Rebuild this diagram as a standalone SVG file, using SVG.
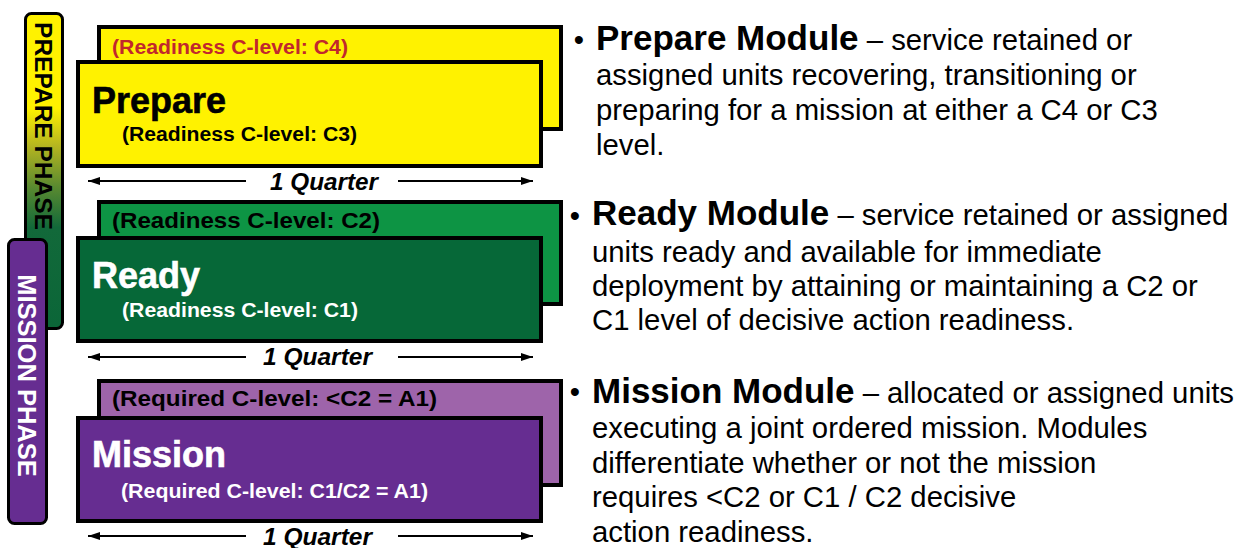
<svg xmlns="http://www.w3.org/2000/svg" width="1249" height="548" viewBox="0 0 1249 548">
<style>
  .box { stroke: #000; stroke-width: 4; }
  .phase { stroke: #000; stroke-width: 3; }
  .b { font-family: "Liberation Sans", Arial, sans-serif; font-weight: bold; }
  .r { font-family: "Liberation Sans", Arial, sans-serif; }
  .title { font-size: 36px; }
  .lvl { font-size: 19.5px; }
  .lvlL { font-size: 22px; }
  .q { font-size: 23px; font-style: italic; }
  .desc { font-size: 29.3px; fill: #000; }
  .head { font-size: 35px; font-weight: bold; }
  .dim { stroke: #000; stroke-width: 2; fill: none; }
</style>
<defs>
  <linearGradient id="prepGrad" x1="0" y1="0" x2="0" y2="1">
    <stop offset="0" stop-color="#fff200"/>
    <stop offset="0.3" stop-color="#fff200"/>
    <stop offset="0.42" stop-color="#b5b520"/>
    <stop offset="0.55" stop-color="#5a8a30"/>
    <stop offset="0.68" stop-color="#12693a"/>
    <stop offset="1" stop-color="#0b6638"/>
  </linearGradient>
  <marker id="ah" viewBox="0 0 12 8" refX="12" refY="4" markerWidth="12" markerHeight="8" markerUnits="userSpaceOnUse" orient="auto-start-reverse">
    <path d="M0,0 L12,4 L0,8 z" fill="#000"/>
  </marker>
</defs>
<rect width="1249" height="548" fill="#fff"/>

<g id="prepare-phase">
  <rect class="phase" x="25.5" y="13.5" width="37" height="315" rx="6" fill="url(#prepGrad)"/>
  <text class="b" font-size="24.5" fill="#000" text-anchor="middle" transform="translate(35,126) rotate(90)">PREPARE PHASE</text>
</g>
<g id="mission-phase">
  <rect class="phase" x="8.5" y="239.5" width="38" height="284" rx="6" fill="#662d91"/>
  <text class="b" font-size="25.5" fill="#fff" text-anchor="middle" transform="translate(18,375.5) rotate(90)">MISSION PHASE</text>
</g>

<g id="prepare-c4">
  <rect class="box" x="99" y="27" width="462" height="102" fill="#fff200"/>
  <text class="b lvl" x="112" y="54" fill="#c1272d" textLength="236" lengthAdjust="spacingAndGlyphs">(Readiness C-level: C4)</text>
</g>
<g id="prepare">
  <rect class="box" x="78" y="62" width="463" height="104" fill="#fff200"/>
  <text class="b title" x="92" y="113" fill="#000" stroke="#000" stroke-width="0.6">Prepare</text>
  <text class="b lvl" x="122" y="141" fill="#000" textLength="235" lengthAdjust="spacingAndGlyphs">(Readiness C-level: C3)</text>
</g>

<g id="ready-c2">
  <rect class="box" x="99" y="202" width="462" height="102" fill="#0d9444"/>
  <text class="b lvlL" x="112" y="228" fill="#000" textLength="268" lengthAdjust="spacingAndGlyphs">(Readiness C-level: C2)</text>
</g>
<g id="ready">
  <rect class="box" x="78" y="238" width="463" height="103" fill="#066838"/>
  <text class="b title" x="92" y="288" fill="#fff" stroke="#fff" stroke-width="0.6">Ready</text>
  <text class="b lvl" x="122" y="316.5" fill="#fff" textLength="236" lengthAdjust="spacingAndGlyphs">(Readiness C-level: C1)</text>
</g>

<g id="mission-c2">
  <rect class="box" x="99" y="381" width="462" height="104" fill="#9e64aa"/>
  <text class="b lvlL" x="112" y="406" fill="#000" textLength="325" lengthAdjust="spacingAndGlyphs">(Required C-level: &lt;C2 = A1)</text>
</g>
<g id="mission">
  <rect class="box" x="78" y="418" width="463" height="103" fill="#662d91"/>
  <text class="b title" x="92" y="466.5" fill="#fff" stroke="#fff" stroke-width="0.6">Mission</text>
  <text class="b lvl" x="121" y="498" fill="#fff" textLength="307" lengthAdjust="spacingAndGlyphs">(Required C-level: C1/C2 = A1)</text>
</g>

<g id="connectors">
  <line class="dim" x1="246" y1="181" x2="88" y2="181" marker-end="url(#ah)"/>
  <line class="dim" x1="398" y1="181" x2="533" y2="181" marker-end="url(#ah)"/>
  <line class="dim" x1="246" y1="357" x2="88" y2="357" marker-end="url(#ah)"/>
  <line class="dim" x1="398" y1="357" x2="533" y2="357" marker-end="url(#ah)"/>
  <line class="dim" x1="246" y1="536" x2="88" y2="536" marker-end="url(#ah)"/>
  <line class="dim" x1="398" y1="536" x2="533" y2="536" marker-end="url(#ah)"/>
</g>
<g id="quarter-labels">
  <text class="b q" x="270" y="190" fill="#000" textLength="108" lengthAdjust="spacingAndGlyphs">1 Quarter</text>
  <text class="b q" x="263" y="365" fill="#000" textLength="109" lengthAdjust="spacingAndGlyphs">1 Quarter</text>
  <text class="b q" x="263" y="545" fill="#000" textLength="109" lengthAdjust="spacingAndGlyphs">1 Quarter</text>
</g>

<g id="prepare-description">
  <text class="r desc" x="579" y="50" text-anchor="middle">•</text>
  <text class="r desc" x="596" y="50"><tspan class="head">Prepare Module</tspan> – service retained or</text>
  <text class="r desc" x="596" y="85">assigned units recovering, transitioning or</text>
  <text class="r desc" x="596" y="120">preparing for a mission at either a C4 or C3</text>
  <text class="r desc" x="596" y="155">level.</text>
</g>
<g id="ready-description">
  <text class="r desc" x="575" y="226" text-anchor="middle">•</text>
  <text class="r desc" x="592" y="225"><tspan class="head">Ready Module</tspan> – service retained or assigned</text>
  <text class="r desc" x="592" y="262">units ready and available for immediate</text>
  <text class="r desc" x="592" y="296">deployment by attaining or maintaining a C2 or</text>
  <text class="r desc" x="592" y="330">C1 level of decisive action readiness.</text>
</g>
<g id="mission-description">
  <text class="r desc" x="575" y="402" text-anchor="middle">•</text>
  <text class="r desc" x="592" y="403"><tspan class="head">Mission Module</tspan> – allocated or assigned units</text>
  <text class="r desc" x="592" y="438">executing a joint ordered mission. Modules</text>
  <text class="r desc" x="592" y="473">differentiate whether or not the mission</text>
  <text class="r desc" x="592" y="507">requires &lt;C2 or C1 / C2 decisive</text>
  <text class="r desc" x="592" y="542">action readiness.</text>
</g>
</svg>
